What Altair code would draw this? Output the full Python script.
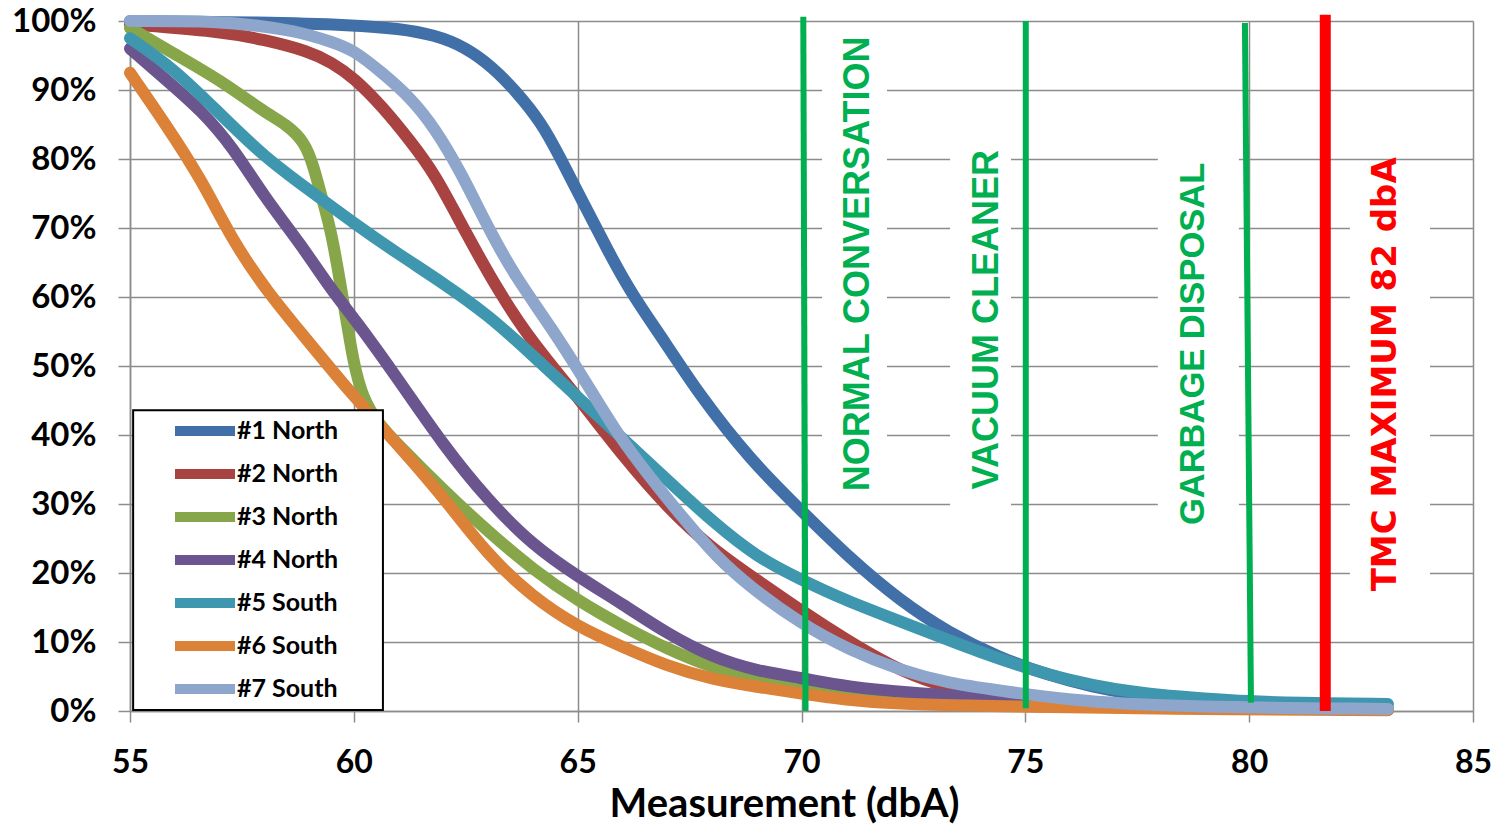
import altair as alt
import pandas as pd

# ---------------- data ----------------
SERIES = ["#1 North", "#2 North", "#3 North", "#4 North", "#5 South", "#6 South", "#7 South"]
COLORS = ["#4170A8", "#A84341", "#87A64A", "#6B558F", "#3E97AF", "#DB8138", "#8EA6CB"]

S1_X = [55, 58, 60, 61, 61.8, 62.5, 63.1, 63.6, 64.2, 64.6, 65.1, 65.7, 66.2, 67, 67.7, 68.85, 70, 71.1, 72.2, 73.3, 74.4, 75.5, 76.5, 77.5, 78.5, 80, 83.1]
S1_Y = [100, 99.8, 99.4, 98.9, 98, 96.2, 93.3, 90, 85.2, 80.3, 74, 66.4, 60.5, 53, 46, 36.4, 29, 22, 16, 11.3, 7.8, 5.2, 3.5, 2.3, 1.6, 0.9, 0.3]

S2_X = [55, 57, 58, 59, 59.5, 60, 60.65, 61.25, 61.8, 62.5, 63.26, 64, 65, 66, 67, 68, 69, 70, 71, 72, 73, 74, 75, 76, 78, 83.1]
S2_Y = [99.5, 98.5, 97.3, 95.6, 94, 91.8, 87.5, 82.7, 78, 69.3, 60.5, 53.3, 45.5, 37, 29.5, 23.5, 19, 14.5, 10.3, 6.5, 3.8, 2.5, 1.6, 1, 0.5, 0.2]

S3_X = [55, 56, 57, 58, 58.5, 58.9, 59.1, 59.3, 59.5, 59.75, 60, 60.2, 60.5, 61, 62, 63, 64, 65, 66, 67, 68, 69, 70, 71, 72, 75, 83.1]
S3_Y = [99, 95.2, 91.5, 86.8, 85, 82.5, 79, 74, 69.5, 60, 50, 45.5, 42, 38.5, 32, 26, 20.5, 16, 12.3, 9, 6.3, 4.5, 3, 2, 1.3, 0.6, 0.2]

S4_X = [55, 55.8, 56.6, 57.3, 58, 58.8, 59.5, 60, 61, 62, 63, 64, 65, 66, 67, 68, 69, 70, 71, 72.5, 74, 76, 78, 83.1]
S4_Y = [96, 91.5, 87, 81.7, 74.5, 67.8, 61, 57, 48, 38.5, 30.5, 24, 19.5, 15.5, 11.2, 7.8, 5.8, 4.8, 3.5, 2.6, 2, 1.2, 0.6, 0.2]

S5_X = [55, 56, 57, 58, 59, 60, 61, 62, 63, 64, 65, 66, 67, 68, 69, 70, 71, 72, 73, 74, 75, 76, 77, 78, 79, 80, 81, 83.1]
S5_Y = [97.5, 93, 86.6, 80.3, 75.5, 70.7, 66.2, 62, 57.4, 51.5, 45.5, 39.5, 33.5, 27.5, 22.3, 19, 16, 13.5, 11, 8.5, 6.3, 4.4, 3.1, 2.3, 1.8, 1.4, 1.2, 1]

S6_X = [55, 55.8, 56.6, 57.3, 58.1, 58.8, 60, 61, 62, 63, 64, 65, 66, 67, 68, 69, 70, 71, 72, 73, 75, 78, 83.1]
S6_Y = [92.5, 85, 77, 68, 60.5, 55, 45.5, 38.5, 31, 22.5, 16.5, 12.2, 9.3, 6.5, 4.6, 3.5, 2.5, 1.6, 1.1, 0.9, 0.6, 0.3, 0.1]

S7_X = [55, 57, 58, 58.8, 59.5, 60, 60.65, 61.25, 61.8, 62.4, 63, 63.6, 64.4, 65.2, 65.9, 66.6, 67.35, 68.1, 68.85, 69.97, 71.08, 72.2, 73.3, 74.4, 75.9, 78.2, 83.1]
S7_Y = [100, 100, 99.2, 98.4, 97, 95.8, 92.4, 89, 84.6, 78, 70, 63, 55.7, 47.5, 40, 34, 28, 22.3, 18, 12.7, 8.8, 5.9, 4, 3, 1.6, 0.6, 0.3]

X_TICKS = [55, 60, 65, 70, 75, 80, 85]
Y_TICKS = [0, 10, 20, 30, 40, 50, 60, 70, 80, 90, 100]

# reference lines (slightly slanted hand-drawn lines)
REF_X1 = [70.04, 75.01, 79.905]
REF_X2 = [70.09, 75.01, 80.04]
REF_Y1 = [100.6, 100.0, 99.7]
REF_Y2 = [0.0, 0.4, 1.2]
LIMIT_X1 = [81.70]
LIMIT_X2 = [81.70]
LIMIT_Y1 = [100.9]
LIMIT_Y2 = [0.0]

LABELS = ["NORMAL CONVERSATION", "VACUUM CLEANER", "GARBAGE DISPOSAL"]
LABEL_X = [71.26, 74.14, 78.77]
LABEL_Y = [64.8, 56.7, 53.2]
LABEL_SIZE = [36, 36, 34.5]
LIMIT_LABEL = ["TMC MAXIMUM 82 dbA"]
LIMIT_LABEL_X = [83.05]
LIMIT_LABEL_Y = [48.8]

# white backgrounds behind the annotation text
BOX_X1 = [70.46, 73.32, 77.96, 82.25]
BOX_X2 = [71.91, 74.68, 79.77, 84.04]
BOX_Y1 = [31.5, 28.0, 26.0, 16.0]
BOX_Y2 = [98.0, 82.0, 81.0, 79.7]

# legend frame
LEGEND_X1 = [55.07]
LEGEND_X2 = [60.65]
LEGEND_Y1 = [0.15]
LEGEND_Y2 = [43.6]

# ---------------- tables ----------------
xs = [S1_X, S2_X, S3_X, S4_X, S5_X, S6_X, S7_X]
ys = [S1_Y, S2_Y, S3_Y, S4_Y, S5_Y, S6_Y, S7_Y]
rows = []
for name, sx, sy in zip(SERIES, xs, ys):
    for a, b in zip(sx, sy):
        rows.append({"series": name, "x": a, "y": b})
lines_df = pd.DataFrame(rows)

ref_df = pd.DataFrame({"x": REF_X1, "x2": REF_X2, "y": REF_Y1, "y2": REF_Y2})
lim_df = pd.DataFrame({"x": LIMIT_X1, "x2": LIMIT_X2, "y": LIMIT_Y1, "y2": LIMIT_Y2})
lab_df = pd.DataFrame({"label": LABELS, "x": LABEL_X, "y": LABEL_Y, "size": LABEL_SIZE})
lim_lab_df = pd.DataFrame({"label": LIMIT_LABEL, "x": LIMIT_LABEL_X, "y": LIMIT_LABEL_Y})
box_df = pd.DataFrame({"x": BOX_X1, "x2": BOX_X2, "y": BOX_Y1, "y2": BOX_Y2})
leg_df = pd.DataFrame({"x": LEGEND_X1, "x2": LEGEND_X2, "y": LEGEND_Y1, "y2": LEGEND_Y2})

xscale = alt.Scale(domain=[55, 85], nice=False, zero=False)
yscale = alt.Scale(domain=[0, 100], nice=False)

boxes = alt.Chart(box_df).mark_rect(fill="white", stroke=None).encode(
    x=alt.X("x:Q", scale=xscale), x2="x2:Q",
    y=alt.Y("y:Q", scale=yscale), y2="y2:Q",
)

series = alt.Chart(lines_df).mark_line(
    strokeWidth=12, strokeCap="round", strokeJoin="round", interpolate="basis"
).encode(
    x=alt.X("x:Q", scale=xscale,
            axis=alt.Axis(values=X_TICKS, title="Measurement (dbA)", grid=True, labelFlush=False)),
    y=alt.Y("y:Q", scale=yscale,
            axis=alt.Axis(values=Y_TICKS, title=None, labelExpr="datum.value + '%'", grid=True)),
    color=alt.Color("series:N", scale=alt.Scale(domain=SERIES, range=COLORS),
                    legend=alt.Legend(
                        title=None, orient="none", legendX=35, legendY=395,
                        symbolType="M-3,0H3", symbolSize=400, symbolStrokeWidth=10,
                        symbolOffset=25, labelOffset=17, rowPadding=3, padding=0,
                        labelFont="Lato", labelFontSize=25, labelFontWeight="bold",
                        labelColor="black")),
    order=alt.Order("x:Q"),
)

refs = alt.Chart(ref_df).mark_rule(color="#00B050", strokeWidth=6).encode(
    x=alt.X("x:Q", scale=xscale), x2="x2:Q",
    y=alt.Y("y:Q", scale=yscale), y2="y2:Q",
)

limit = alt.Chart(lim_df).mark_rule(color="#FF0000", strokeWidth=11).encode(
    x=alt.X("x:Q", scale=xscale), x2="x2:Q",
    y=alt.Y("y:Q", scale=yscale), y2="y2:Q",
)

labels = alt.Chart(lab_df).mark_text(
    angle=270, align="center", baseline="middle",
    font="Liberation Sans", fontWeight="bold", color="#00B050"
).encode(
    x=alt.X("x:Q", scale=xscale),
    y=alt.Y("y:Q", scale=yscale),
    text="label:N",
    size=alt.Size("size:Q", scale=None),
)

limit_label = alt.Chart(lim_lab_df).mark_text(
    angle=270, align="center", baseline="middle",
    font="DejaVu Sans", fontSize=34, fontWeight="bold", color="#FF0000"
).encode(
    x=alt.X("x:Q", scale=xscale),
    y=alt.Y("y:Q", scale=yscale),
    text="label:N",
)

legend_frame = alt.Chart(leg_df).mark_rect(fill="white", stroke="black", strokeWidth=2).encode(
    x=alt.X("x:Q", scale=xscale), x2="x2:Q",
    y=alt.Y("y:Q", scale=yscale), y2="y2:Q",
)

chart = alt.layer(boxes, series, refs, limit, labels, limit_label, legend_frame).properties(
    width=1343, height=690,
    padding={"left": 122, "top": 13, "right": 20, "bottom": 117},
    autosize=alt.AutoSizeParams(type="none"),
).configure_view(stroke=None).configure_axis(
    gridColor="#8C8C8C", gridWidth=1.5,
    domainColor="#8C8C8C", domainWidth=1.5,
    tickColor="#8C8C8C", tickWidth=1.5,
    labelFont="Lato", labelFontWeight="bold", labelFontSize=32, labelColor="black",
    titleFont="Lato", titleFontWeight="bold", titleFontSize=40, titleColor="black",
).configure_axisX(
    tickSize=11, labelPadding=50, labelBaseline="alphabetic",
    titleX=654, titleY=105, titleBaseline="alphabetic", titleAlign="center",
).configure_axisY(
    tickSize=12, labelPadding=22, labelFontSize=33,
)

chart.save("out.html", embed_options={"renderer": "svg", "actions": False})
